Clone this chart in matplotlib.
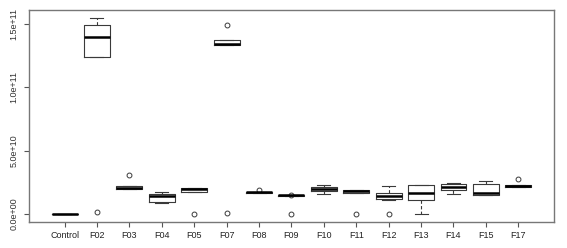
import matplotlib
matplotlib.use("Agg")
import matplotlib.pyplot as plt

plt.rcParams["font.family"] = ["Liberation Sans", "DejaVu Sans"]

# values in units of 1e10
groups = ["Control", "F02", "F03", "F04", "F05", "F07", "F08", "F09",
          "F10", "F11", "F12", "F13", "F14", "F15", "F17"]
whislo = [0.0, 12.4, 1.95, 0.90, 1.76, 13.34, 1.68, 1.45, 1.58, 1.68, 1.12, 0.02, 1.55, 1.48, 2.11]
q1 = [0.0, 12.4, 1.95, 0.95, 1.76, 13.34, 1.68, 1.45, 1.79, 1.68, 1.16, 1.13, 1.87, 1.50, 2.11]
med = [0.0, 13.95, 2.03, 1.42, 2.00, 13.42, 1.71, 1.47, 1.97, 1.78, 1.42, 1.63, 2.16, 1.66, 2.20]
q3 = [0.0, 14.9, 2.21, 1.60, 2.05, 13.73, 1.74, 1.49, 2.13, 1.87, 1.66, 2.26, 2.37, 2.34, 2.29]
whishi = [0.0, 15.5, 2.21, 1.74, 2.05, 13.73, 1.74, 1.49, 2.31, 1.92, 2.21, 2.30, 2.47, 2.58, 2.29]
outliers = [[], [0.15], [3.08], [], [0.0], [14.9, 0.1], [1.92], [1.52, 0.0],
            [], [0.0], [0.0], [], [], [], [2.76]]
yticks = [0, 5, 10, 15]
ytick_labels = ["0.0e+00", "5.0e+10", "1.0e+11", "1.5e+11"]

scale = 1e10
stats = []
for i, g in enumerate(groups):
    stats.append({
        "label": g,
        "whislo": whislo[i] * scale,
        "q1": q1[i] * scale,
        "med": med[i] * scale,
        "q3": q3[i] * scale,
        "whishi": whishi[i] * scale,
        "fliers": [v * scale for v in outliers[i]],
    })

edge = "#3a3a3a"
fig = plt.figure(figsize=(5.67, 2.48), dpi=100)
ax = fig.add_axes([0.051, 0.105, 0.926, 0.855])

ax.bxp(stats, positions=range(1, len(groups) + 1), widths=0.8,
       boxprops=dict(color=edge, linewidth=0.8),
       whiskerprops=dict(color=edge, linewidth=0.8, linestyle=(0, (3, 2))),
       capprops=dict(color=edge, linewidth=0.8),
       capwidths=0.4,
       medianprops=dict(color="black", linewidth=1.8),
       flierprops=dict(marker="o", markersize=3.5, markerfacecolor="none",
                       markeredgecolor=edge, markeredgewidth=0.7))

ax.set_xlim(-0.1, 16.1)
ax.set_ylim(-0.63 * scale, 16.1 * scale)
ax.set_yticks([t * scale for t in yticks])
ax.set_yticklabels(ytick_labels, rotation=90, va="center", fontsize=6.5, color="#333333")
ax.set_xticks(range(1, len(groups) + 1))
ax.set_xticklabels(groups, fontsize=6.5, color="#222222")
ax.tick_params(axis="x", length=3.5, width=0.8, color="#555555", pad=3)
ax.tick_params(axis="y", length=3.5, width=0.8, color="#555555", pad=4)
for s in ax.spines.values():
    s.set_color("#777777")
    s.set_linewidth(1.0)

fig.savefig("out.png", dpi=100)
